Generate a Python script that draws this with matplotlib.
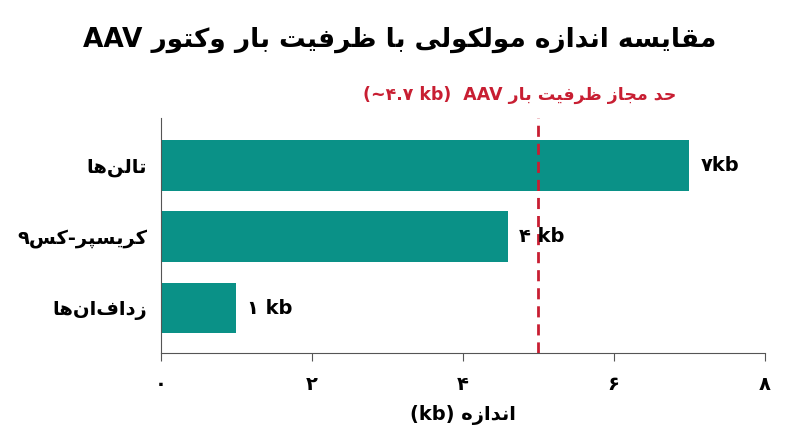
import matplotlib
matplotlib.use("Agg")
import matplotlib.pyplot as plt
from matplotlib.transforms import blended_transform_factory

# chart data
categories = ["تالن‌ها", "کریسپر-کس۹", "زداف‌ان‌ها"]
sizes_kb = [7, 4.6, 1]
value_labels = ["۷kb", "۴ kb", "۱ kb"]
aav_limit = 5.0
x_ticks = [0, 2, 4, 6, 8]
x_tick_labels = ["۰", "۲", "۴", "۶", "۸"]

# arabic presentation forms: isolated, final, initial, medial
FORMS = {
    "\u0627": ("\uFE8D", "\uFE8E", None, None),
    "\u0628": ("\uFE8F", "\uFE90", "\uFE91", "\uFE92"),
    "\u062A": ("\uFE95", "\uFE96", "\uFE97", "\uFE98"),
    "\u062C": ("\uFE9D", "\uFE9E", "\uFE9F", "\uFEA0"),
    "\u062D": ("\uFEA1", "\uFEA2", "\uFEA3", "\uFEA4"),
    "\u062F": ("\uFEA9", "\uFEAA", None, None),
    "\u0631": ("\uFEAD", "\uFEAE", None, None),
    "\u0632": ("\uFEAF", "\uFEB0", None, None),
    "\u0633": ("\uFEB1", "\uFEB2", "\uFEB3", "\uFEB4"),
    "\u0638": ("\uFEC5", "\uFEC6", "\uFEC7", "\uFEC8"),
    "\u0641": ("\uFED1", "\uFED2", "\uFED3", "\uFED4"),
    "\u0642": ("\uFED5", "\uFED6", "\uFED7", "\uFED8"),
    "\u0644": ("\uFEDD", "\uFEDE", "\uFEDF", "\uFEE0"),
    "\u0645": ("\uFEE1", "\uFEE2", "\uFEE3", "\uFEE4"),
    "\u0646": ("\uFEE5", "\uFEE6", "\uFEE7", "\uFEE8"),
    "\u0647": ("\uFEE9", "\uFEEA", "\uFEEB", "\uFEEC"),
    "\u0648": ("\uFEED", "\uFEEE", None, None),
    "\u06CC": ("\uFBFC", "\uFBFD", "\uFBFE", "\uFBFF"),
    "\u06A9": ("\uFB8E", "\uFB8F", "\uFB90", "\uFB91"),
    "\u067E": ("\uFB56", "\uFB57", "\uFB58", "\uFB59"),
}


def rtl(text):
    # join letters, then flip to visual order
    out = []
    for i, c in enumerate(text):
        if c not in FORMS:
            out.append(c)
            continue
        prev = text[i - 1] if i > 0 else None
        nxt = text[i + 1] if i + 1 < len(text) else None
        join_prev = prev in FORMS and FORMS[prev][2] is not None
        join_next = nxt in FORMS and FORMS[c][2] is not None
        iso, fin, ini, med = FORMS[c]
        if join_prev and join_next:
            out.append(med)
        elif join_prev:
            out.append(fin)
        elif join_next:
            out.append(ini)
        else:
            out.append(iso)
    return "".join(out).replace("\u200c", "")[::-1]


plt.rcParams["font.family"] = ["DejaVu Sans"]
plt.rcParams["font.weight"] = "bold"

teal = "#0a9187"
red = "#c81e32"

fig = plt.figure(figsize=(8, 4.47), dpi=100)
ax = fig.add_axes([0.201, 0.21, 0.755, 0.526])

ypos = [2, 1, 0]
ax.barh(ypos, sizes_kb, height=0.71, color=teal)
for y, v, lab in zip(ypos, sizes_kb, value_labels):
    ax.annotate(lab, (v, y), xytext=(8, 0), textcoords="offset points",
                ha="left", va="center", fontsize=14, fontweight="bold")

ax.axvline(aav_limit, color=red, lw=2, ls=(0, (4, 2.5)))
tr = blended_transform_factory(ax.transData, ax.transAxes)
ax.text(aav_limit - 0.25, 1.1, "(~۴.۷ kb)  AAV " + rtl("حد مجاز ظرفیت بار"),
        transform=tr, ha="center", va="center", color=red,
        fontsize=12.5, fontweight="bold")

ax.set_xlim(0, 8)
ax.set_ylim(-0.63, 2.66)
ax.set_xticks(x_ticks)
ax.set_xticklabels(x_tick_labels, fontsize=14, fontweight="bold")
ax.set_yticks(ypos)
ax.set_yticklabels([rtl(c) for c in categories], fontsize=14, fontweight="bold")
ax.tick_params(axis="x", length=6, color="#555555", pad=10)
ax.tick_params(axis="y", length=0, pad=10)
for s in ["top", "right"]:
    ax.spines[s].set_visible(False)
for s in ["left", "bottom"]:
    ax.spines[s].set_color("#555555")
ax.set_xlabel("(kb) " + rtl("اندازه"), fontsize=14, fontweight="bold", labelpad=8)

fig.text(0.5, 0.91, "AAV " + rtl("مقایسه اندازه مولکولی با ظرفیت بار وکتور"),
         ha="center", va="center", fontsize=19, fontweight="bold")

fig.savefig("out.png", dpi=100)
